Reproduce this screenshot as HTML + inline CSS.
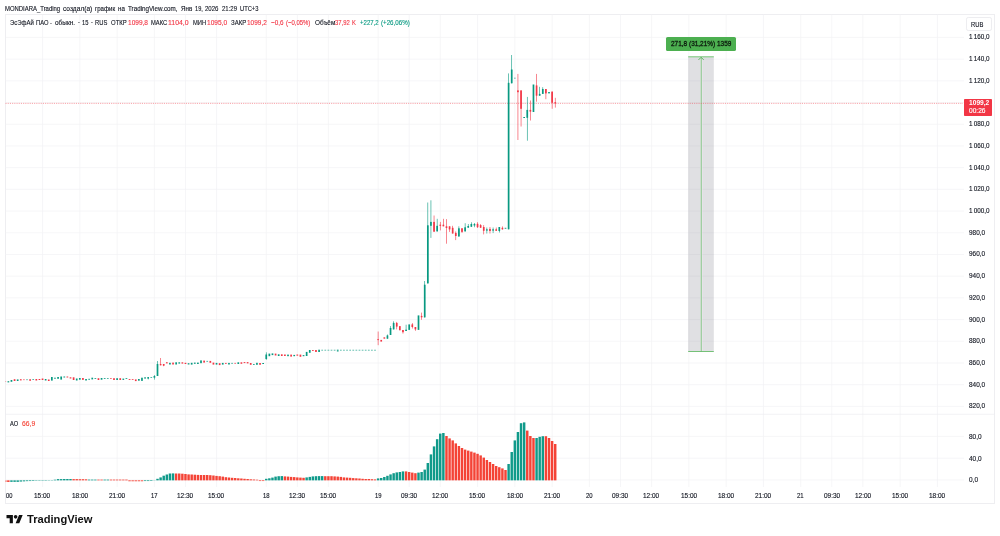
<!DOCTYPE html>
<html><head><meta charset="utf-8"><title>chart</title>
<style>
html,body{margin:0;padding:0;background:#fff;}
body{width:1000px;height:536px;position:relative;overflow:hidden;font-family:"Liberation Sans",sans-serif;color:#131722;}
#frame{position:absolute;left:5px;top:14px;width:990px;height:490px;border:1px solid #eeeef1;box-sizing:border-box;}
svg{position:absolute;left:0;top:0;}
#txt{position:absolute;left:0;top:0;width:1000px;height:536px;will-change:transform;}
.t{position:absolute;white-space:nowrap;line-height:1;transform-origin:0 0;-webkit-text-stroke:0.13px currentColor;}
#rub{position:absolute;left:965.6px;top:17.2px;width:26.8px;height:14px;box-sizing:border-box;border:0.8px solid #ededf0;border-radius:2.2px;}
#last{position:absolute;left:964px;top:98.8px;width:28.2px;height:16.8px;background:#f23645;border-radius:0.8px;}
#tag{position:absolute;left:666px;top:37.2px;width:69.8px;height:14px;background:#4caf50;border-radius:1.6px;}
</style></head><body>
<div id="frame"></div>
<svg width="1000" height="536" viewBox="0 0 1000 536">
<line x1="42.54" y1="14.5" x2="42.54" y2="487" stroke="#f2f2f5" stroke-width="0.7"/>
<line x1="79.82" y1="14.5" x2="79.82" y2="487" stroke="#f2f2f5" stroke-width="0.7"/>
<line x1="117.11" y1="14.5" x2="117.11" y2="487" stroke="#f2f2f5" stroke-width="0.7"/>
<line x1="154.40" y1="14.5" x2="154.40" y2="487" stroke="#f2f2f5" stroke-width="0.7"/>
<line x1="185.47" y1="14.5" x2="185.47" y2="487" stroke="#f2f2f5" stroke-width="0.7"/>
<line x1="216.54" y1="14.5" x2="216.54" y2="487" stroke="#f2f2f5" stroke-width="0.7"/>
<line x1="266.25" y1="14.5" x2="266.25" y2="487" stroke="#f2f2f5" stroke-width="0.7"/>
<line x1="297.33" y1="14.5" x2="297.33" y2="487" stroke="#f2f2f5" stroke-width="0.7"/>
<line x1="328.40" y1="14.5" x2="328.40" y2="487" stroke="#f2f2f5" stroke-width="0.7"/>
<line x1="378.11" y1="14.5" x2="378.11" y2="487" stroke="#f2f2f5" stroke-width="0.7"/>
<line x1="409.19" y1="14.5" x2="409.19" y2="487" stroke="#f2f2f5" stroke-width="0.7"/>
<line x1="440.26" y1="14.5" x2="440.26" y2="487" stroke="#f2f2f5" stroke-width="0.7"/>
<line x1="477.54" y1="14.5" x2="477.54" y2="487" stroke="#f2f2f5" stroke-width="0.7"/>
<line x1="514.83" y1="14.5" x2="514.83" y2="487" stroke="#f2f2f5" stroke-width="0.7"/>
<line x1="552.12" y1="14.5" x2="552.12" y2="487" stroke="#f2f2f5" stroke-width="0.7"/>
<line x1="589.40" y1="14.5" x2="589.40" y2="487" stroke="#f2f2f5" stroke-width="0.7"/>
<line x1="620.48" y1="14.5" x2="620.48" y2="487" stroke="#f2f2f5" stroke-width="0.7"/>
<line x1="651.55" y1="14.5" x2="651.55" y2="487" stroke="#f2f2f5" stroke-width="0.7"/>
<line x1="688.83" y1="14.5" x2="688.83" y2="487" stroke="#f2f2f5" stroke-width="0.7"/>
<line x1="726.12" y1="14.5" x2="726.12" y2="487" stroke="#f2f2f5" stroke-width="0.7"/>
<line x1="763.41" y1="14.5" x2="763.41" y2="487" stroke="#f2f2f5" stroke-width="0.7"/>
<line x1="800.69" y1="14.5" x2="800.69" y2="487" stroke="#f2f2f5" stroke-width="0.7"/>
<line x1="831.77" y1="14.5" x2="831.77" y2="487" stroke="#f2f2f5" stroke-width="0.7"/>
<line x1="862.84" y1="14.5" x2="862.84" y2="487" stroke="#f2f2f5" stroke-width="0.7"/>
<line x1="900.12" y1="14.5" x2="900.12" y2="487" stroke="#f2f2f5" stroke-width="0.7"/>
<line x1="937.41" y1="14.5" x2="937.41" y2="487" stroke="#f2f2f5" stroke-width="0.7"/>
<line x1="5.5" y1="406.38" x2="964" y2="406.38" stroke="#f2f2f5" stroke-width="0.7"/>
<line x1="5.5" y1="384.68" x2="964" y2="384.68" stroke="#f2f2f5" stroke-width="0.7"/>
<line x1="5.5" y1="362.98" x2="964" y2="362.98" stroke="#f2f2f5" stroke-width="0.7"/>
<line x1="5.5" y1="341.28" x2="964" y2="341.28" stroke="#f2f2f5" stroke-width="0.7"/>
<line x1="5.5" y1="319.58" x2="964" y2="319.58" stroke="#f2f2f5" stroke-width="0.7"/>
<line x1="5.5" y1="297.87" x2="964" y2="297.87" stroke="#f2f2f5" stroke-width="0.7"/>
<line x1="5.5" y1="276.17" x2="964" y2="276.17" stroke="#f2f2f5" stroke-width="0.7"/>
<line x1="5.5" y1="254.47" x2="964" y2="254.47" stroke="#f2f2f5" stroke-width="0.7"/>
<line x1="5.5" y1="232.77" x2="964" y2="232.77" stroke="#f2f2f5" stroke-width="0.7"/>
<line x1="5.5" y1="211.07" x2="964" y2="211.07" stroke="#f2f2f5" stroke-width="0.7"/>
<line x1="5.5" y1="189.36" x2="964" y2="189.36" stroke="#f2f2f5" stroke-width="0.7"/>
<line x1="5.5" y1="167.66" x2="964" y2="167.66" stroke="#f2f2f5" stroke-width="0.7"/>
<line x1="5.5" y1="145.96" x2="964" y2="145.96" stroke="#f2f2f5" stroke-width="0.7"/>
<line x1="5.5" y1="124.26" x2="964" y2="124.26" stroke="#f2f2f5" stroke-width="0.7"/>
<line x1="5.5" y1="102.56" x2="964" y2="102.56" stroke="#f2f2f5" stroke-width="0.7"/>
<line x1="5.5" y1="80.85" x2="964" y2="80.85" stroke="#f2f2f5" stroke-width="0.7"/>
<line x1="5.5" y1="59.15" x2="964" y2="59.15" stroke="#f2f2f5" stroke-width="0.7"/>
<line x1="5.5" y1="37.45" x2="964" y2="37.45" stroke="#f2f2f5" stroke-width="0.7"/>
<line x1="5.5" y1="436.40" x2="964" y2="436.40" stroke="#f2f2f5" stroke-width="0.7"/>
<line x1="5.5" y1="458.20" x2="964" y2="458.20" stroke="#f2f2f5" stroke-width="0.7"/>
<line x1="5.5" y1="480.00" x2="964" y2="480.00" stroke="#f2f2f5" stroke-width="0.7"/>
<line x1="5.5" y1="414.3" x2="994.5" y2="414.3" stroke="#ededf0" stroke-width="0.7"/>
<rect x="688.2" y="56.3" width="25.6" height="295.2" fill="#787b86" fill-opacity="0.23"/>
<line x1="688.2" y1="56.8" x2="713.8" y2="56.8" stroke="#8fd092" stroke-width="1.3"/>
<line x1="688.2" y1="351.5" x2="713.8" y2="351.5" stroke="#66bb6a" stroke-width="0.9"/>
<line x1="701.2" y1="57.5" x2="701.2" y2="351" stroke="#f4ecf4" stroke-width="2.2"/>
<line x1="701.2" y1="57" x2="701.2" y2="351.5" stroke="#5cb860" stroke-width="0.8"/>
<path d="M698.5 59.9 L701.1 57.3 L703.7 59.9" fill="none" stroke="#5cb860" stroke-width="1"/>
<line x1="5.5" y1="103.35" x2="963" y2="103.35" stroke="#f23645" stroke-width="0.8" stroke-dasharray="1.1 1.1" opacity="0.6"/>
<clipPath id="cp"><rect x="5.6" y="14.5" width="958" height="473"/></clipPath><g clip-path="url(#cp)">
<rect x="4.40" y="381.20" width="1.7" height="0.80" fill="#f23645"/>
<rect x="7.51" y="381.20" width="1.7" height="1.20" fill="#089981"/>
<rect x="10.61" y="380.00" width="1.7" height="1.80" fill="#089981"/>
<rect x="13.72" y="379.20" width="1.7" height="1.80" fill="#f23645"/>
<rect x="16.83" y="379.40" width="1.7" height="1.60" fill="#089981"/>
<rect x="19.94" y="379.20" width="1.7" height="1.20" fill="#f23645"/>
<rect x="23.04" y="379.50" width="1.7" height="0.60" fill="#f23645"/>
<rect x="26.15" y="379.50" width="1.7" height="0.60" fill="#089981"/>
<rect x="29.26" y="379.20" width="1.7" height="1.60" fill="#f23645"/>
<rect x="32.36" y="379.30" width="1.7" height="0.70" fill="#089981"/>
<rect x="35.47" y="379.00" width="1.7" height="1.50" fill="#f23645"/>
<rect x="38.58" y="379.00" width="1.7" height="1.00" fill="#f23645"/>
<rect x="41.69" y="378.50" width="1.7" height="1.50" fill="#f23645"/>
<rect x="44.79" y="379.00" width="1.7" height="1.50" fill="#089981"/>
<rect x="47.90" y="379.50" width="1.7" height="1.50" fill="#f23645"/>
<rect x="51.01" y="377.00" width="1.7" height="3.60" fill="#089981"/>
<rect x="54.12" y="377.70" width="1.7" height="1.00" fill="#089981"/>
<rect x="57.22" y="377.00" width="1.7" height="1.80" fill="#089981"/>
<rect x="60.33" y="376.50" width="1.7" height="3.10" fill="#089981"/>
<rect x="63.44" y="376.50" width="1.7" height="1.00" fill="#089981"/>
<rect x="66.54" y="376.50" width="1.7" height="1.00" fill="#f23645"/>
<rect x="69.65" y="377.30" width="1.7" height="1.20" fill="#f23645"/>
<rect x="72.76" y="377.30" width="1.7" height="2.70" fill="#f23645"/>
<rect x="75.87" y="378.50" width="1.7" height="2.00" fill="#089981"/>
<rect x="78.97" y="378.00" width="1.7" height="1.70" fill="#089981"/>
<rect x="82.08" y="378.00" width="1.7" height="1.90" fill="#f23645"/>
<rect x="85.19" y="379.00" width="1.7" height="1.50" fill="#089981"/>
<rect x="88.29" y="378.80" width="1.7" height="0.90" fill="#089981"/>
<rect x="91.40" y="377.70" width="1.7" height="1.70" fill="#089981"/>
<rect x="94.51" y="378.00" width="1.7" height="0.80" fill="#089981"/>
<rect x="97.62" y="378.20" width="1.7" height="1.80" fill="#f23645"/>
<rect x="100.72" y="378.00" width="1.7" height="1.70" fill="#089981"/>
<rect x="103.83" y="378.00" width="1.7" height="0.80" fill="#089981"/>
<rect x="106.94" y="378.00" width="1.7" height="0.70" fill="#089981"/>
<rect x="110.04" y="378.00" width="1.7" height="0.70" fill="#f23645"/>
<rect x="113.15" y="378.20" width="1.7" height="1.80" fill="#f23645"/>
<rect x="116.26" y="378.20" width="1.7" height="1.80" fill="#089981"/>
<rect x="119.37" y="378.20" width="1.7" height="1.80" fill="#f23645"/>
<rect x="122.47" y="378.60" width="1.7" height="1.30" fill="#089981"/>
<rect x="125.58" y="378.20" width="1.7" height="0.80" fill="#089981"/>
<rect x="128.69" y="379.00" width="1.7" height="0.90" fill="#f23645"/>
<rect x="131.80" y="379.20" width="1.7" height="0.80" fill="#f23645"/>
<rect x="134.90" y="379.40" width="1.7" height="1.70" fill="#f23645"/>
<rect x="138.01" y="379.00" width="1.7" height="1.70" fill="#089981"/>
<rect x="141.12" y="377.70" width="1.7" height="3.20" fill="#089981"/>
<rect x="144.22" y="377.30" width="1.7" height="1.30" fill="#089981"/>
<rect x="147.88" y="377.10" width="0.6" height="2.30" fill="#089981"/>
<rect x="147.33" y="377.10" width="1.7" height="1.50" fill="#089981"/>
<rect x="150.44" y="377.30" width="1.7" height="0.70" fill="#089981"/>
<rect x="154.10" y="375.10" width="0.6" height="4.50" fill="#089981"/>
<rect x="153.55" y="376.00" width="1.7" height="1.70" fill="#089981"/>
<rect x="157.20" y="361.00" width="0.6" height="15.00" fill="#089981"/>
<rect x="156.65" y="364.00" width="1.7" height="12.00" fill="#089981"/>
<rect x="160.31" y="358.00" width="0.6" height="7.30" fill="#f23645"/>
<rect x="159.76" y="364.00" width="1.7" height="1.30" fill="#f23645"/>
<rect x="163.42" y="364.00" width="0.6" height="2.20" fill="#f23645"/>
<rect x="162.87" y="364.00" width="1.7" height="1.70" fill="#f23645"/>
<rect x="165.97" y="362.20" width="1.7" height="1.20" fill="#f23645"/>
<rect x="169.08" y="362.80" width="1.7" height="1.70" fill="#089981"/>
<rect x="172.19" y="362.60" width="1.7" height="1.90" fill="#f23645"/>
<rect x="175.30" y="362.30" width="1.7" height="2.20" fill="#089981"/>
<rect x="178.40" y="362.30" width="1.7" height="1.30" fill="#089981"/>
<rect x="181.51" y="362.30" width="1.7" height="1.30" fill="#f23645"/>
<rect x="184.62" y="362.80" width="1.7" height="1.20" fill="#f23645"/>
<rect x="187.72" y="363.20" width="1.7" height="1.30" fill="#089981"/>
<rect x="190.83" y="362.80" width="1.7" height="1.80" fill="#089981"/>
<rect x="193.94" y="362.60" width="1.7" height="1.20" fill="#089981"/>
<rect x="197.05" y="362.60" width="1.7" height="1.40" fill="#089981"/>
<rect x="200.15" y="360.40" width="1.7" height="2.80" fill="#089981"/>
<rect x="203.26" y="360.60" width="1.7" height="2.00" fill="#f23645"/>
<rect x="206.37" y="360.90" width="1.7" height="0.70" fill="#089981"/>
<rect x="209.48" y="360.90" width="1.7" height="1.90" fill="#f23645"/>
<rect x="212.58" y="362.60" width="1.7" height="2.00" fill="#f23645"/>
<rect x="215.69" y="362.90" width="1.7" height="1.70" fill="#089981"/>
<rect x="218.80" y="363.20" width="1.7" height="1.90" fill="#f23645"/>
<rect x="221.90" y="362.90" width="1.7" height="1.70" fill="#089981"/>
<rect x="225.01" y="362.90" width="1.7" height="0.90" fill="#f23645"/>
<rect x="228.12" y="362.90" width="1.7" height="1.60" fill="#089981"/>
<rect x="231.23" y="362.90" width="1.7" height="0.70" fill="#089981"/>
<rect x="234.33" y="362.90" width="1.7" height="0.70" fill="#f23645"/>
<rect x="237.44" y="362.30" width="1.7" height="1.70" fill="#089981"/>
<rect x="240.55" y="362.30" width="1.7" height="1.50" fill="#f23645"/>
<rect x="243.65" y="362.10" width="1.7" height="1.00" fill="#f23645"/>
<rect x="246.76" y="362.10" width="1.7" height="1.30" fill="#f23645"/>
<rect x="249.87" y="363.00" width="1.7" height="1.80" fill="#f23645"/>
<rect x="252.98" y="364.00" width="1.7" height="0.80" fill="#089981"/>
<rect x="256.08" y="362.80" width="1.7" height="2.00" fill="#089981"/>
<rect x="259.19" y="363.00" width="1.7" height="1.80" fill="#f23645"/>
<rect x="262.30" y="363.00" width="1.7" height="1.00" fill="#089981"/>
<rect x="265.95" y="352.30" width="0.6" height="7.40" fill="#089981"/>
<rect x="265.40" y="354.50" width="1.7" height="4.60" fill="#089981"/>
<rect x="268.51" y="353.60" width="1.7" height="2.60" fill="#089981"/>
<rect x="271.62" y="353.40" width="1.7" height="1.70" fill="#089981"/>
<rect x="274.73" y="353.60" width="1.7" height="1.90" fill="#f23645"/>
<rect x="277.83" y="354.30" width="1.7" height="1.70" fill="#089981"/>
<rect x="280.94" y="354.30" width="1.7" height="1.70" fill="#f23645"/>
<rect x="284.05" y="354.50" width="1.7" height="1.50" fill="#f23645"/>
<rect x="287.16" y="354.60" width="1.7" height="1.60" fill="#089981"/>
<rect x="290.26" y="354.60" width="1.7" height="2.00" fill="#f23645"/>
<rect x="293.37" y="354.90" width="1.7" height="1.30" fill="#089981"/>
<rect x="296.48" y="354.50" width="1.7" height="1.20" fill="#f23645"/>
<rect x="299.58" y="354.60" width="1.7" height="2.20" fill="#f23645"/>
<rect x="302.69" y="355.10" width="1.7" height="1.10" fill="#089981"/>
<rect x="305.80" y="351.90" width="1.7" height="4.10" fill="#089981"/>
<rect x="308.91" y="350.00" width="1.7" height="2.80" fill="#089981"/>
<rect x="312.01" y="350.00" width="1.7" height="0.90" fill="#f23645"/>
<rect x="315.12" y="350.00" width="1.7" height="2.00" fill="#f23645"/>
<rect x="318.23" y="349.70" width="1.7" height="2.30" fill="#089981"/>
<rect x="321.33" y="349.60" width="1.7" height="1.40" fill="#089981" opacity="0.45"/>
<rect x="324.44" y="349.60" width="1.7" height="1.40" fill="#089981" opacity="0.45"/>
<rect x="327.55" y="349.60" width="1.7" height="1.40" fill="#089981" opacity="0.45"/>
<rect x="330.66" y="349.60" width="1.7" height="1.40" fill="#089981" opacity="0.45"/>
<rect x="333.76" y="349.60" width="1.7" height="1.40" fill="#089981" opacity="0.45"/>
<rect x="336.87" y="349.60" width="1.7" height="2.00" fill="#089981" opacity="0.8"/>
<rect x="339.98" y="349.60" width="1.7" height="1.40" fill="#089981" opacity="0.45"/>
<rect x="343.08" y="349.60" width="1.7" height="1.40" fill="#089981" opacity="0.45"/>
<rect x="346.19" y="349.60" width="1.7" height="1.40" fill="#089981" opacity="0.45"/>
<rect x="349.30" y="349.60" width="1.7" height="1.40" fill="#089981" opacity="0.45"/>
<rect x="352.41" y="349.60" width="1.7" height="1.40" fill="#089981" opacity="0.45"/>
<rect x="355.51" y="349.60" width="1.7" height="1.40" fill="#089981" opacity="0.45"/>
<rect x="358.62" y="349.60" width="1.7" height="1.40" fill="#089981" opacity="0.45"/>
<rect x="361.73" y="349.60" width="1.7" height="1.40" fill="#089981" opacity="0.45"/>
<rect x="364.84" y="349.60" width="1.7" height="1.40" fill="#089981" opacity="0.45"/>
<rect x="367.94" y="349.60" width="1.7" height="1.40" fill="#089981" opacity="0.45"/>
<rect x="371.05" y="349.60" width="1.7" height="1.40" fill="#089981" opacity="0.45"/>
<rect x="374.16" y="349.60" width="1.7" height="1.40" fill="#089981" opacity="0.45"/>
<rect x="377.81" y="331.50" width="0.6" height="13.70" fill="#f23645"/>
<rect x="377.26" y="339.20" width="1.7" height="0.90" fill="#f23645"/>
<rect x="380.37" y="339.90" width="1.7" height="1.70" fill="#f23645"/>
<rect x="383.48" y="337.30" width="1.7" height="1.40" fill="#f23645"/>
<rect x="387.14" y="334.50" width="0.6" height="4.20" fill="#089981"/>
<rect x="386.59" y="335.40" width="1.7" height="3.30" fill="#089981"/>
<rect x="390.24" y="326.10" width="0.6" height="8.90" fill="#089981"/>
<rect x="389.69" y="328.00" width="1.7" height="7.00" fill="#089981"/>
<rect x="393.35" y="321.30" width="0.6" height="8.10" fill="#089981"/>
<rect x="392.80" y="322.90" width="1.7" height="6.50" fill="#089981"/>
<rect x="396.46" y="321.90" width="0.6" height="7.50" fill="#f23645"/>
<rect x="395.91" y="322.90" width="1.7" height="3.70" fill="#f23645"/>
<rect x="399.01" y="326.10" width="1.7" height="4.20" fill="#f23645"/>
<rect x="402.67" y="330.00" width="0.6" height="3.60" fill="#f23645"/>
<rect x="402.12" y="330.00" width="1.7" height="2.20" fill="#f23645"/>
<rect x="405.78" y="324.70" width="0.6" height="6.30" fill="#089981"/>
<rect x="405.23" y="329.70" width="1.7" height="1.30" fill="#089981"/>
<rect x="408.34" y="324.40" width="1.7" height="5.50" fill="#089981"/>
<rect x="411.99" y="323.10" width="0.6" height="5.40" fill="#f23645"/>
<rect x="411.44" y="324.40" width="1.7" height="2.60" fill="#f23645"/>
<rect x="415.10" y="327.00" width="0.6" height="3.80" fill="#f23645"/>
<rect x="414.55" y="327.00" width="1.7" height="2.40" fill="#f23645"/>
<rect x="417.66" y="315.40" width="1.7" height="14.50" fill="#089981"/>
<rect x="421.31" y="312.60" width="0.6" height="7.20" fill="#f23645"/>
<rect x="420.76" y="315.90" width="1.7" height="1.40" fill="#f23645"/>
<rect x="424.42" y="281.00" width="0.6" height="36.40" fill="#089981"/>
<rect x="423.87" y="284.70" width="1.7" height="32.70" fill="#089981"/>
<rect x="427.53" y="202.50" width="0.6" height="80.90" fill="#089981"/>
<rect x="426.98" y="225.30" width="1.7" height="58.10" fill="#089981"/>
<rect x="430.64" y="200.30" width="0.6" height="37.60" fill="#089981"/>
<rect x="430.09" y="221.90" width="1.7" height="3.90" fill="#089981"/>
<rect x="433.74" y="215.50" width="0.6" height="16.20" fill="#f23645"/>
<rect x="433.19" y="221.90" width="1.7" height="9.80" fill="#f23645"/>
<rect x="436.85" y="218.80" width="0.6" height="12.60" fill="#089981"/>
<rect x="436.30" y="225.80" width="1.7" height="5.60" fill="#089981"/>
<rect x="439.96" y="221.90" width="0.6" height="8.50" fill="#f23645"/>
<rect x="439.41" y="224.70" width="1.7" height="1.10" fill="#f23645"/>
<rect x="443.07" y="218.80" width="0.6" height="7.50" fill="#f23645"/>
<rect x="442.52" y="224.70" width="1.7" height="1.60" fill="#f23645"/>
<rect x="446.17" y="219.10" width="0.6" height="24.60" fill="#f23645"/>
<rect x="445.62" y="226.30" width="1.7" height="1.70" fill="#f23645"/>
<rect x="449.28" y="226.30" width="0.6" height="5.60" fill="#f23645"/>
<rect x="448.73" y="226.30" width="1.7" height="3.10" fill="#f23645"/>
<rect x="452.39" y="225.80" width="0.6" height="7.70" fill="#f23645"/>
<rect x="451.84" y="227.80" width="1.7" height="5.70" fill="#f23645"/>
<rect x="455.49" y="231.40" width="0.6" height="8.70" fill="#f23645"/>
<rect x="454.94" y="232.90" width="1.7" height="3.10" fill="#f23645"/>
<rect x="458.60" y="226.30" width="0.6" height="10.20" fill="#089981"/>
<rect x="458.05" y="228.30" width="1.7" height="8.20" fill="#089981"/>
<rect x="461.71" y="228.30" width="0.6" height="4.70" fill="#f23645"/>
<rect x="461.16" y="228.30" width="1.7" height="3.60" fill="#f23645"/>
<rect x="464.82" y="223.20" width="0.6" height="8.20" fill="#089981"/>
<rect x="464.27" y="227.30" width="1.7" height="4.10" fill="#089981"/>
<rect x="467.92" y="224.00" width="0.6" height="3.70" fill="#089981"/>
<rect x="467.37" y="226.00" width="1.7" height="1.70" fill="#089981"/>
<rect x="471.03" y="222.30" width="0.6" height="4.50" fill="#089981"/>
<rect x="470.48" y="224.00" width="1.7" height="2.80" fill="#089981"/>
<rect x="474.14" y="223.00" width="0.6" height="4.20" fill="#089981"/>
<rect x="473.59" y="224.00" width="1.7" height="1.50" fill="#089981"/>
<rect x="477.24" y="222.20" width="0.6" height="5.80" fill="#f23645"/>
<rect x="476.69" y="223.80" width="1.7" height="3.40" fill="#f23645"/>
<rect x="480.35" y="224.10" width="0.6" height="3.90" fill="#f23645"/>
<rect x="479.80" y="225.10" width="1.7" height="2.60" fill="#f23645"/>
<rect x="483.46" y="225.10" width="0.6" height="9.30" fill="#f23645"/>
<rect x="482.91" y="227.00" width="1.7" height="3.80" fill="#f23645"/>
<rect x="486.57" y="227.50" width="0.6" height="6.00" fill="#089981"/>
<rect x="486.02" y="229.30" width="1.7" height="1.30" fill="#089981"/>
<rect x="489.67" y="227.00" width="0.6" height="6.50" fill="#f23645"/>
<rect x="489.12" y="228.90" width="1.7" height="2.10" fill="#f23645"/>
<rect x="492.78" y="227.50" width="0.6" height="5.60" fill="#089981"/>
<rect x="492.23" y="229.30" width="1.7" height="1.30" fill="#089981"/>
<rect x="495.89" y="227.50" width="0.6" height="3.50" fill="#f23645"/>
<rect x="495.34" y="229.30" width="1.7" height="1.50" fill="#f23645"/>
<rect x="498.99" y="227.00" width="0.6" height="5.50" fill="#089981"/>
<rect x="498.44" y="227.00" width="1.7" height="4.00" fill="#089981"/>
<rect x="502.10" y="226.40" width="0.6" height="3.30" fill="#f23645"/>
<rect x="501.55" y="227.80" width="1.7" height="1.50" fill="#f23645"/>
<rect x="504.66" y="227.80" width="1.7" height="0.90" fill="#089981"/>
<rect x="508.32" y="73.40" width="0.6" height="155.90" fill="#089981"/>
<rect x="507.77" y="82.80" width="1.7" height="146.50" fill="#089981"/>
<rect x="511.42" y="55.00" width="0.6" height="28.30" fill="#089981"/>
<rect x="510.87" y="69.50" width="1.7" height="13.80" fill="#089981"/>
<rect x="513.98" y="77.80" width="1.7" height="0.60" fill="#089981"/>
<rect x="517.64" y="73.90" width="0.6" height="66.10" fill="#f23645"/>
<rect x="517.09" y="90.40" width="1.7" height="1.80" fill="#f23645"/>
<rect x="520.75" y="90.40" width="0.6" height="36.10" fill="#f23645"/>
<rect x="520.20" y="90.40" width="1.7" height="18.40" fill="#f23645"/>
<rect x="523.30" y="117.00" width="1.7" height="1.00" fill="#089981"/>
<rect x="526.96" y="96.90" width="0.6" height="43.80" fill="#089981"/>
<rect x="526.41" y="109.90" width="1.7" height="7.90" fill="#089981"/>
<rect x="530.07" y="100.50" width="0.6" height="20.00" fill="#f23645"/>
<rect x="529.52" y="109.90" width="1.7" height="1.70" fill="#f23645"/>
<rect x="532.62" y="84.50" width="1.7" height="27.50" fill="#089981"/>
<rect x="536.28" y="73.90" width="0.6" height="27.80" fill="#f23645"/>
<rect x="535.73" y="85.40" width="1.7" height="10.30" fill="#f23645"/>
<rect x="539.39" y="86.80" width="0.6" height="8.90" fill="#089981"/>
<rect x="538.84" y="93.90" width="1.7" height="1.80" fill="#089981"/>
<rect x="542.50" y="87.20" width="0.6" height="6.70" fill="#089981"/>
<rect x="541.95" y="89.00" width="1.7" height="4.90" fill="#089981"/>
<rect x="545.60" y="89.00" width="0.6" height="10.20" fill="#f23645"/>
<rect x="545.05" y="89.00" width="1.7" height="4.40" fill="#f23645"/>
<rect x="548.16" y="92.00" width="1.7" height="1.40" fill="#089981"/>
<rect x="551.82" y="91.60" width="0.6" height="17.20" fill="#f23645"/>
<rect x="551.27" y="91.60" width="1.7" height="11.20" fill="#f23645"/>
<rect x="554.92" y="97.80" width="0.6" height="9.80" fill="#f23645"/>
<rect x="554.37" y="102.20" width="1.7" height="1.30" fill="#f23645"/>
<rect x="4.03" y="480.35" width="2.45" height="1.60" fill="#f44336"/>
<rect x="7.13" y="480.35" width="2.45" height="1.60" fill="#f44336"/>
<rect x="10.24" y="480.35" width="2.45" height="1.50" fill="#109a8a"/>
<rect x="13.35" y="480.35" width="2.45" height="1.50" fill="#109a8a"/>
<rect x="16.45" y="480.35" width="2.45" height="1.50" fill="#109a8a"/>
<rect x="19.56" y="480.35" width="2.45" height="1.20" fill="#109a8a"/>
<rect x="22.67" y="480.35" width="2.45" height="1.00" fill="#109a8a"/>
<rect x="25.78" y="480.35" width="2.45" height="0.80" fill="#109a8a"/>
<rect x="28.88" y="480.35" width="2.45" height="0.70" fill="#109a8a"/>
<rect x="31.99" y="480.35" width="2.45" height="0.60" fill="#109a8a"/>
<rect x="35.10" y="480.35" width="2.45" height="0.40" fill="#109a8a"/>
<rect x="38.20" y="480.35" width="2.45" height="0.40" fill="#109a8a"/>
<rect x="41.31" y="480.35" width="2.45" height="0.40" fill="#109a8a"/>
<rect x="44.42" y="480.35" width="2.45" height="0.40" fill="#109a8a"/>
<rect x="47.53" y="480.35" width="2.45" height="0.30" fill="#109a8a"/>
<rect x="50.63" y="480.35" width="2.45" height="0.30" fill="#109a8a"/>
<rect x="53.74" y="479.70" width="2.45" height="0.65" fill="#109a8a"/>
<rect x="56.85" y="479.10" width="2.45" height="1.25" fill="#109a8a"/>
<rect x="59.95" y="479.10" width="2.45" height="1.25" fill="#109a8a"/>
<rect x="63.06" y="479.00" width="2.45" height="1.35" fill="#109a8a"/>
<rect x="66.17" y="479.00" width="2.45" height="1.35" fill="#109a8a"/>
<rect x="69.28" y="479.00" width="2.45" height="1.35" fill="#109a8a"/>
<rect x="72.38" y="479.10" width="2.45" height="1.25" fill="#f44336"/>
<rect x="75.49" y="479.10" width="2.45" height="1.25" fill="#f44336"/>
<rect x="78.60" y="479.20" width="2.45" height="1.15" fill="#f44336"/>
<rect x="81.71" y="479.20" width="2.45" height="1.15" fill="#f44336"/>
<rect x="84.81" y="479.30" width="2.45" height="1.05" fill="#f44336"/>
<rect x="87.92" y="479.60" width="2.45" height="0.75" fill="#109a8a"/>
<rect x="91.03" y="479.60" width="2.45" height="0.75" fill="#109a8a"/>
<rect x="94.13" y="479.60" width="2.45" height="0.75" fill="#109a8a"/>
<rect x="97.24" y="479.60" width="2.45" height="0.75" fill="#f44336"/>
<rect x="100.35" y="479.60" width="2.45" height="0.75" fill="#f44336"/>
<rect x="103.46" y="479.60" width="2.45" height="0.75" fill="#109a8a"/>
<rect x="106.56" y="479.60" width="2.45" height="0.75" fill="#109a8a"/>
<rect x="109.67" y="479.60" width="2.45" height="0.75" fill="#f44336"/>
<rect x="112.78" y="479.60" width="2.45" height="0.75" fill="#f44336"/>
<rect x="115.88" y="479.60" width="2.45" height="0.75" fill="#f44336"/>
<rect x="118.99" y="479.60" width="2.45" height="0.75" fill="#f44336"/>
<rect x="122.10" y="479.60" width="2.45" height="0.75" fill="#f44336"/>
<rect x="125.21" y="479.60" width="2.45" height="0.75" fill="#f44336"/>
<rect x="128.31" y="480.35" width="2.45" height="0.90" fill="#f44336"/>
<rect x="131.42" y="480.35" width="2.45" height="0.90" fill="#f44336"/>
<rect x="134.53" y="480.35" width="2.45" height="0.90" fill="#f44336"/>
<rect x="137.63" y="480.35" width="2.45" height="0.90" fill="#f44336"/>
<rect x="140.74" y="480.35" width="2.45" height="0.90" fill="#f44336"/>
<rect x="143.85" y="480.35" width="2.45" height="0.70" fill="#109a8a"/>
<rect x="146.96" y="480.35" width="2.45" height="0.70" fill="#109a8a"/>
<rect x="150.06" y="480.35" width="2.45" height="0.60" fill="#109a8a"/>
<rect x="153.17" y="480.35" width="2.45" height="0.20" fill="#109a8a"/>
<rect x="156.28" y="478.80" width="2.45" height="1.55" fill="#109a8a"/>
<rect x="159.39" y="477.40" width="2.45" height="2.95" fill="#109a8a"/>
<rect x="162.49" y="475.70" width="2.45" height="4.65" fill="#109a8a"/>
<rect x="165.60" y="474.50" width="2.45" height="5.85" fill="#109a8a"/>
<rect x="168.71" y="473.50" width="2.45" height="6.85" fill="#109a8a"/>
<rect x="171.81" y="473.40" width="2.45" height="6.95" fill="#109a8a"/>
<rect x="174.92" y="473.50" width="2.45" height="6.85" fill="#f44336"/>
<rect x="178.03" y="473.50" width="2.45" height="6.85" fill="#f44336"/>
<rect x="181.14" y="473.70" width="2.45" height="6.65" fill="#f44336"/>
<rect x="184.24" y="474.00" width="2.45" height="6.35" fill="#f44336"/>
<rect x="187.35" y="474.40" width="2.45" height="5.95" fill="#f44336"/>
<rect x="190.46" y="474.50" width="2.45" height="5.85" fill="#f44336"/>
<rect x="193.56" y="474.70" width="2.45" height="5.65" fill="#f44336"/>
<rect x="196.67" y="474.90" width="2.45" height="5.45" fill="#f44336"/>
<rect x="199.78" y="475.00" width="2.45" height="5.35" fill="#f44336"/>
<rect x="202.89" y="475.00" width="2.45" height="5.35" fill="#f44336"/>
<rect x="205.99" y="475.00" width="2.45" height="5.35" fill="#f44336"/>
<rect x="209.10" y="475.20" width="2.45" height="5.15" fill="#f44336"/>
<rect x="212.21" y="475.50" width="2.45" height="4.85" fill="#f44336"/>
<rect x="215.31" y="475.90" width="2.45" height="4.45" fill="#f44336"/>
<rect x="218.42" y="476.20" width="2.45" height="4.15" fill="#f44336"/>
<rect x="221.53" y="476.60" width="2.45" height="3.75" fill="#f44336"/>
<rect x="224.64" y="477.20" width="2.45" height="3.15" fill="#f44336"/>
<rect x="227.74" y="477.50" width="2.45" height="2.85" fill="#f44336"/>
<rect x="230.85" y="477.80" width="2.45" height="2.55" fill="#f44336"/>
<rect x="233.96" y="478.00" width="2.45" height="2.35" fill="#f44336"/>
<rect x="237.07" y="478.30" width="2.45" height="2.05" fill="#f44336"/>
<rect x="240.17" y="478.50" width="2.45" height="1.85" fill="#f44336"/>
<rect x="243.28" y="478.80" width="2.45" height="1.55" fill="#f44336"/>
<rect x="246.39" y="479.00" width="2.45" height="1.35" fill="#f44336"/>
<rect x="249.49" y="479.30" width="2.45" height="1.05" fill="#f44336"/>
<rect x="252.60" y="479.50" width="2.45" height="0.85" fill="#f44336"/>
<rect x="255.71" y="479.70" width="2.45" height="0.65" fill="#f44336"/>
<rect x="258.82" y="480.35" width="2.45" height="0.70" fill="#f44336"/>
<rect x="261.92" y="480.35" width="2.45" height="0.70" fill="#f44336"/>
<rect x="265.03" y="478.80" width="2.45" height="1.55" fill="#109a8a"/>
<rect x="268.14" y="478.30" width="2.45" height="2.05" fill="#109a8a"/>
<rect x="271.24" y="477.60" width="2.45" height="2.75" fill="#109a8a"/>
<rect x="274.35" y="476.60" width="2.45" height="3.75" fill="#109a8a"/>
<rect x="277.46" y="476.20" width="2.45" height="4.15" fill="#109a8a"/>
<rect x="280.57" y="476.10" width="2.45" height="4.25" fill="#109a8a"/>
<rect x="283.67" y="476.40" width="2.45" height="3.95" fill="#f44336"/>
<rect x="286.78" y="476.60" width="2.45" height="3.75" fill="#f44336"/>
<rect x="289.89" y="476.90" width="2.45" height="3.45" fill="#f44336"/>
<rect x="292.99" y="477.10" width="2.45" height="3.25" fill="#f44336"/>
<rect x="296.10" y="477.40" width="2.45" height="2.95" fill="#f44336"/>
<rect x="299.21" y="477.60" width="2.45" height="2.75" fill="#f44336"/>
<rect x="302.32" y="477.80" width="2.45" height="2.55" fill="#f44336"/>
<rect x="305.42" y="477.40" width="2.45" height="2.95" fill="#109a8a"/>
<rect x="308.53" y="476.90" width="2.45" height="3.45" fill="#109a8a"/>
<rect x="311.64" y="476.40" width="2.45" height="3.95" fill="#109a8a"/>
<rect x="314.75" y="476.20" width="2.45" height="4.15" fill="#109a8a"/>
<rect x="317.85" y="476.10" width="2.45" height="4.25" fill="#109a8a"/>
<rect x="320.96" y="476.10" width="2.45" height="4.25" fill="#109a8a"/>
<rect x="324.07" y="476.20" width="2.45" height="4.15" fill="#f44336"/>
<rect x="327.17" y="476.20" width="2.45" height="4.15" fill="#f44336"/>
<rect x="330.28" y="476.20" width="2.45" height="4.15" fill="#f44336"/>
<rect x="333.39" y="476.40" width="2.45" height="3.95" fill="#f44336"/>
<rect x="336.50" y="476.60" width="2.45" height="3.75" fill="#f44336"/>
<rect x="339.60" y="476.90" width="2.45" height="3.45" fill="#f44336"/>
<rect x="342.71" y="477.40" width="2.45" height="2.95" fill="#f44336"/>
<rect x="345.82" y="477.60" width="2.45" height="2.75" fill="#f44336"/>
<rect x="348.92" y="477.80" width="2.45" height="2.55" fill="#f44336"/>
<rect x="352.03" y="478.10" width="2.45" height="2.25" fill="#f44336"/>
<rect x="355.14" y="478.30" width="2.45" height="2.05" fill="#f44336"/>
<rect x="358.25" y="478.50" width="2.45" height="1.85" fill="#f44336"/>
<rect x="361.35" y="478.80" width="2.45" height="1.55" fill="#f44336"/>
<rect x="364.46" y="479.00" width="2.45" height="1.35" fill="#f44336"/>
<rect x="367.57" y="479.00" width="2.45" height="1.35" fill="#f44336"/>
<rect x="370.67" y="479.20" width="2.45" height="1.15" fill="#f44336"/>
<rect x="373.78" y="479.40" width="2.45" height="0.95" fill="#f44336"/>
<rect x="376.89" y="478.40" width="2.45" height="1.95" fill="#109a8a"/>
<rect x="380.00" y="478.00" width="2.45" height="2.35" fill="#109a8a"/>
<rect x="383.10" y="477.00" width="2.45" height="3.35" fill="#109a8a"/>
<rect x="386.21" y="475.80" width="2.45" height="4.55" fill="#109a8a"/>
<rect x="389.32" y="474.40" width="2.45" height="5.95" fill="#109a8a"/>
<rect x="392.43" y="473.20" width="2.45" height="7.15" fill="#109a8a"/>
<rect x="395.53" y="472.40" width="2.45" height="7.95" fill="#109a8a"/>
<rect x="398.64" y="472.00" width="2.45" height="8.35" fill="#109a8a"/>
<rect x="401.75" y="471.40" width="2.45" height="8.95" fill="#109a8a"/>
<rect x="404.85" y="471.40" width="2.45" height="8.95" fill="#f44336"/>
<rect x="407.96" y="472.00" width="2.45" height="8.35" fill="#f44336"/>
<rect x="411.07" y="472.60" width="2.45" height="7.75" fill="#f44336"/>
<rect x="414.18" y="473.20" width="2.45" height="7.15" fill="#f44336"/>
<rect x="417.28" y="472.60" width="2.45" height="7.75" fill="#109a8a"/>
<rect x="420.39" y="472.00" width="2.45" height="8.35" fill="#109a8a"/>
<rect x="423.50" y="469.60" width="2.45" height="10.75" fill="#109a8a"/>
<rect x="426.60" y="463.00" width="2.45" height="17.35" fill="#109a8a"/>
<rect x="429.71" y="454.40" width="2.45" height="25.95" fill="#109a8a"/>
<rect x="432.82" y="446.40" width="2.45" height="33.95" fill="#109a8a"/>
<rect x="435.93" y="439.20" width="2.45" height="41.15" fill="#109a8a"/>
<rect x="439.03" y="433.60" width="2.45" height="46.75" fill="#109a8a"/>
<rect x="442.14" y="433.00" width="2.45" height="47.35" fill="#109a8a"/>
<rect x="445.25" y="436.00" width="2.45" height="44.35" fill="#f44336"/>
<rect x="448.35" y="438.40" width="2.45" height="41.95" fill="#f44336"/>
<rect x="451.46" y="440.40" width="2.45" height="39.95" fill="#f44336"/>
<rect x="454.57" y="443.40" width="2.45" height="36.95" fill="#f44336"/>
<rect x="457.68" y="446.00" width="2.45" height="34.35" fill="#f44336"/>
<rect x="460.78" y="448.00" width="2.45" height="32.35" fill="#f44336"/>
<rect x="463.89" y="449.60" width="2.45" height="30.75" fill="#f44336"/>
<rect x="467.00" y="450.60" width="2.45" height="29.75" fill="#f44336"/>
<rect x="470.11" y="451.60" width="2.45" height="28.75" fill="#f44336"/>
<rect x="473.21" y="452.60" width="2.45" height="27.75" fill="#f44336"/>
<rect x="476.32" y="453.80" width="2.45" height="26.55" fill="#f44336"/>
<rect x="479.43" y="455.40" width="2.45" height="24.95" fill="#f44336"/>
<rect x="482.53" y="457.60" width="2.45" height="22.75" fill="#f44336"/>
<rect x="485.64" y="460.00" width="2.45" height="20.35" fill="#f44336"/>
<rect x="488.75" y="462.00" width="2.45" height="18.35" fill="#f44336"/>
<rect x="491.86" y="464.00" width="2.45" height="16.35" fill="#f44336"/>
<rect x="494.96" y="466.00" width="2.45" height="14.35" fill="#f44336"/>
<rect x="498.07" y="467.20" width="2.45" height="13.15" fill="#f44336"/>
<rect x="501.18" y="468.40" width="2.45" height="11.95" fill="#f44336"/>
<rect x="504.28" y="470.00" width="2.45" height="10.35" fill="#f44336"/>
<rect x="507.39" y="464.00" width="2.45" height="16.35" fill="#109a8a"/>
<rect x="510.50" y="452.00" width="2.45" height="28.35" fill="#109a8a"/>
<rect x="513.61" y="440.40" width="2.45" height="39.95" fill="#109a8a"/>
<rect x="516.71" y="432.00" width="2.45" height="48.35" fill="#109a8a"/>
<rect x="519.82" y="423.20" width="2.45" height="57.15" fill="#109a8a"/>
<rect x="522.93" y="422.40" width="2.45" height="57.95" fill="#109a8a"/>
<rect x="526.03" y="430.60" width="2.45" height="49.75" fill="#f44336"/>
<rect x="529.14" y="436.00" width="2.45" height="44.35" fill="#f44336"/>
<rect x="532.25" y="438.00" width="2.45" height="42.35" fill="#f44336"/>
<rect x="535.36" y="438.00" width="2.45" height="42.35" fill="#109a8a"/>
<rect x="538.46" y="436.80" width="2.45" height="43.55" fill="#109a8a"/>
<rect x="541.57" y="436.20" width="2.45" height="44.15" fill="#109a8a"/>
<rect x="544.68" y="436.20" width="2.45" height="44.15" fill="#f44336"/>
<rect x="547.78" y="438.00" width="2.45" height="42.35" fill="#f44336"/>
<rect x="550.89" y="441.00" width="2.45" height="39.35" fill="#f44336"/>
<rect x="554.00" y="444.00" width="2.45" height="36.35" fill="#f44336"/>
</g>
<g fill="#111"><path transform="translate(6.5,513.2) scale(0.456)" d="M14 22H7V11H0V4h14v18zM28 22h-8l7.5-18h8L28 22z"/><circle cx="15.62" cy="516.85" r="1.82"/></g>
</svg>
<div id="rub"></div>
<div id="last"></div>
<div id="tag"></div>
<div id="txt">
<div class="t" style="left:5.40px;top:4.90px;font-size:7.05px;transform:scaleX(0.8408);">MONDIARA_Trading</div>
<div class="t" style="left:63.00px;top:4.90px;font-size:7.05px;transform:scaleX(0.9367);">создал(а)</div>
<div class="t" style="left:94.90px;top:4.90px;font-size:7.05px;transform:scaleX(0.8651);">график</div>
<div class="t" style="left:118.10px;top:4.90px;font-size:7.05px;transform:scaleX(0.8832);">на</div>
<div class="t" style="left:127.75px;top:4.90px;font-size:7.05px;transform:scaleX(0.8899);">TradingView.com,</div>
<div class="t" style="left:181.00px;top:4.90px;font-size:7.05px;transform:scaleX(0.8834);">Янв</div>
<div class="t" style="left:194.56px;top:4.90px;font-size:7.05px;transform:scaleX(0.8000);">19,</div>
<div class="t" style="left:205.00px;top:4.90px;font-size:7.05px;transform:scaleX(0.8606);">2026</div>
<div class="t" style="left:222.25px;top:4.90px;font-size:7.05px;transform:scaleX(0.8503);">21:29</div>
<div class="t" style="left:240.25px;top:4.90px;font-size:7.05px;transform:scaleX(0.8189);">UTC+3</div>
<div class="t" style="left:9.95px;top:18.75px;font-size:7.25px;transform:scaleX(0.8251);">ЭсЭфАй</div>
<div class="t" style="left:35.74px;top:18.75px;font-size:7.25px;transform:scaleX(0.8000);">ПАО</div>
<div class="t" style="left:50.41px;top:18.75px;font-size:7.25px;transform:scaleX(0.8000);">-</div>
<div class="t" style="left:54.70px;top:18.75px;font-size:7.25px;transform:scaleX(0.8918);">обыкн.</div>
<div class="t" style="left:77.78px;top:18.75px;font-size:7.25px;transform:scaleX(0.8000);">·</div>
<div class="t" style="left:82.07px;top:18.75px;font-size:7.25px;transform:scaleX(0.8000);">15</div>
<div class="t" style="left:91.18px;top:18.75px;font-size:7.25px;transform:scaleX(0.8000);">·</div>
<div class="t" style="left:94.68px;top:18.75px;font-size:7.25px;transform:scaleX(0.8000);">RUS</div>
<div class="t" style="left:111.30px;top:18.75px;font-size:7.25px;transform:scaleX(0.8202);">ОТКР</div>
<div class="t" style="left:127.50px;top:18.75px;font-size:7.25px;transform:scaleX(0.9014);color:#f23645">1099,8</div>
<div class="t" style="left:151.49px;top:18.75px;font-size:7.25px;transform:scaleX(0.8000);">МАКС</div>
<div class="t" style="left:168.00px;top:18.75px;font-size:7.25px;transform:scaleX(0.9519);color:#f23645">1104,0</div>
<div class="t" style="left:193.00px;top:18.75px;font-size:7.25px;transform:scaleX(0.8000);">МИН</div>
<div class="t" style="left:206.80px;top:18.75px;font-size:7.25px;transform:scaleX(0.9059);color:#f23645">1095,0</div>
<div class="t" style="left:231.00px;top:18.75px;font-size:7.25px;transform:scaleX(0.8315);">ЗАКР</div>
<div class="t" style="left:246.80px;top:18.75px;font-size:7.25px;transform:scaleX(0.8924);color:#f23645">1099,2</div>
<div class="t" style="left:271.25px;top:18.75px;font-size:7.25px;transform:scaleX(0.8734);color:#f23645">−0,6</div>
<div class="t" style="left:286.25px;top:18.75px;font-size:7.25px;transform:scaleX(0.8186);color:#f23645">(−0,05%)</div>
<div class="t" style="left:314.50px;top:18.75px;font-size:7.25px;transform:scaleX(0.8784);">Объём</div>
<div class="t" style="left:335.20px;top:18.75px;font-size:7.25px;transform:scaleX(0.8151);color:#f23645">37,92</div>
<div class="t" style="left:352.40px;top:18.75px;font-size:7.25px;transform:scaleX(0.8052);color:#f23645">K</div>
<div class="t" style="left:360.00px;top:18.75px;font-size:7.25px;transform:scaleX(0.8374);color:#089981">+227,2</div>
<div class="t" style="left:381.25px;top:18.75px;font-size:7.25px;transform:scaleX(0.8542);color:#089981">(+26,06%)</div>
<div class="t" style="left:9.80px;top:419.90px;font-size:7.0px;transform:scaleX(0.8099);">AO</div>
<div class="t" style="left:22.00px;top:419.90px;font-size:7.0px;transform:scaleX(0.9688);color:#f44336">66,9</div>
<div class="t" style="left:969.00px;top:403.33px;font-size:6.5px;transform:scaleX(0.9889);">820,0</div>
<div class="t" style="left:969.00px;top:381.63px;font-size:6.5px;transform:scaleX(0.9889);">840,0</div>
<div class="t" style="left:969.00px;top:359.93px;font-size:6.5px;transform:scaleX(0.9889);">860,0</div>
<div class="t" style="left:969.00px;top:338.23px;font-size:6.5px;transform:scaleX(0.9889);">880,0</div>
<div class="t" style="left:969.00px;top:316.52px;font-size:6.5px;transform:scaleX(0.9889);">900,0</div>
<div class="t" style="left:969.00px;top:294.82px;font-size:6.5px;transform:scaleX(0.9889);">920,0</div>
<div class="t" style="left:969.00px;top:273.12px;font-size:6.5px;transform:scaleX(0.9889);">940,0</div>
<div class="t" style="left:969.00px;top:251.42px;font-size:6.5px;transform:scaleX(0.9889);">960,0</div>
<div class="t" style="left:969.00px;top:229.72px;font-size:6.5px;transform:scaleX(0.9889);">980,0</div>
<div class="t" style="left:969.00px;top:208.01px;font-size:6.5px;transform:scaleX(0.9723);">1 000,0</div>
<div class="t" style="left:969.00px;top:186.31px;font-size:6.5px;transform:scaleX(0.9723);">1 020,0</div>
<div class="t" style="left:969.00px;top:164.61px;font-size:6.5px;transform:scaleX(0.9723);">1 040,0</div>
<div class="t" style="left:969.00px;top:142.91px;font-size:6.5px;transform:scaleX(0.9723);">1 060,0</div>
<div class="t" style="left:969.00px;top:121.21px;font-size:6.5px;transform:scaleX(0.9723);">1 080,0</div>
<div class="t" style="left:969.00px;top:77.80px;font-size:6.5px;transform:scaleX(0.9723);">1 120,0</div>
<div class="t" style="left:969.00px;top:56.10px;font-size:6.5px;transform:scaleX(0.9723);">1 140,0</div>
<div class="t" style="left:969.00px;top:34.40px;font-size:6.5px;transform:scaleX(0.9723);">1 160,0</div>
<div class="t" style="left:969.00px;top:433.80px;font-size:6.5px;transform:scaleX(0.9956);">80,0</div>
<div class="t" style="left:969.00px;top:455.60px;font-size:6.5px;transform:scaleX(0.9956);">40,0</div>
<div class="t" style="left:969.00px;top:477.40px;font-size:6.5px;transform:scaleX(0.9948);">0,0</div>
<div class="t" style="left:34.44px;top:492.61px;font-size:6.55px;transform:scaleX(0.9884);">15:00</div>
<div class="t" style="left:71.72px;top:492.61px;font-size:6.55px;transform:scaleX(0.9884);">18:00</div>
<div class="t" style="left:109.01px;top:492.61px;font-size:6.55px;transform:scaleX(0.9884);">21:00</div>
<div class="t" style="left:151.10px;top:492.61px;font-size:6.55px;transform:scaleX(0.9045);">17</div>
<div class="t" style="left:177.37px;top:492.61px;font-size:6.55px;transform:scaleX(0.9884);">12:30</div>
<div class="t" style="left:208.44px;top:492.61px;font-size:6.55px;transform:scaleX(0.9884);">15:00</div>
<div class="t" style="left:262.95px;top:492.61px;font-size:6.55px;transform:scaleX(0.9045);">18</div>
<div class="t" style="left:289.23px;top:492.61px;font-size:6.55px;transform:scaleX(0.9884);">12:30</div>
<div class="t" style="left:320.30px;top:492.61px;font-size:6.55px;transform:scaleX(0.9884);">15:00</div>
<div class="t" style="left:374.81px;top:492.61px;font-size:6.55px;transform:scaleX(0.9045);">19</div>
<div class="t" style="left:401.09px;top:492.61px;font-size:6.55px;transform:scaleX(0.9884);">09:30</div>
<div class="t" style="left:432.16px;top:492.61px;font-size:6.55px;transform:scaleX(0.9884);">12:00</div>
<div class="t" style="left:469.44px;top:492.61px;font-size:6.55px;transform:scaleX(0.9884);">15:00</div>
<div class="t" style="left:506.73px;top:492.61px;font-size:6.55px;transform:scaleX(0.9884);">18:00</div>
<div class="t" style="left:544.02px;top:492.61px;font-size:6.55px;transform:scaleX(0.9884);">21:00</div>
<div class="t" style="left:586.10px;top:492.61px;font-size:6.55px;transform:scaleX(0.9045);">20</div>
<div class="t" style="left:612.38px;top:492.61px;font-size:6.55px;transform:scaleX(0.9884);">09:30</div>
<div class="t" style="left:643.45px;top:492.61px;font-size:6.55px;transform:scaleX(0.9884);">12:00</div>
<div class="t" style="left:680.73px;top:492.61px;font-size:6.55px;transform:scaleX(0.9884);">15:00</div>
<div class="t" style="left:718.02px;top:492.61px;font-size:6.55px;transform:scaleX(0.9884);">18:00</div>
<div class="t" style="left:755.31px;top:492.61px;font-size:6.55px;transform:scaleX(0.9884);">21:00</div>
<div class="t" style="left:797.39px;top:492.61px;font-size:6.55px;transform:scaleX(0.9045);">21</div>
<div class="t" style="left:823.67px;top:492.61px;font-size:6.55px;transform:scaleX(0.9884);">09:30</div>
<div class="t" style="left:854.74px;top:492.61px;font-size:6.55px;transform:scaleX(0.9884);">12:00</div>
<div class="t" style="left:892.02px;top:492.61px;font-size:6.55px;transform:scaleX(0.9884);">15:00</div>
<div class="t" style="left:929.31px;top:492.61px;font-size:6.55px;transform:scaleX(0.9884);">18:00</div>
<div class="t" style="left:6.20px;top:492.61px;font-size:6.55px;transform:scaleX(0.8771);">00</div>
<div class="t" style="left:970.90px;top:21.80px;font-size:6.4px;transform:scaleX(0.9111);">RUB</div>
<div class="t" style="left:969.10px;top:100.30px;font-size:6.6px;transform:scaleX(1.0064);color:#fff;font-weight:bold;-webkit-text-stroke:0">1099,2</div>
<div class="t" style="left:969.10px;top:107.80px;font-size:6.6px;transform:scaleX(0.9991);color:#fff">00:26</div>
<div class="t" style="left:670.60px;top:40.40px;font-size:7.6px;transform:scaleX(0.8515);color:#0c1a0d;-webkit-text-stroke:0.3px #0c1a0d">271,8 (31,21%) 1359</div>
<div class="t" style="left:26.80px;top:514.30px;font-size:11.5px;transform:scaleX(0.9684);color:#111;font-weight:bold;-webkit-text-stroke:0">TradingView</div>
</div>
</body></html>
